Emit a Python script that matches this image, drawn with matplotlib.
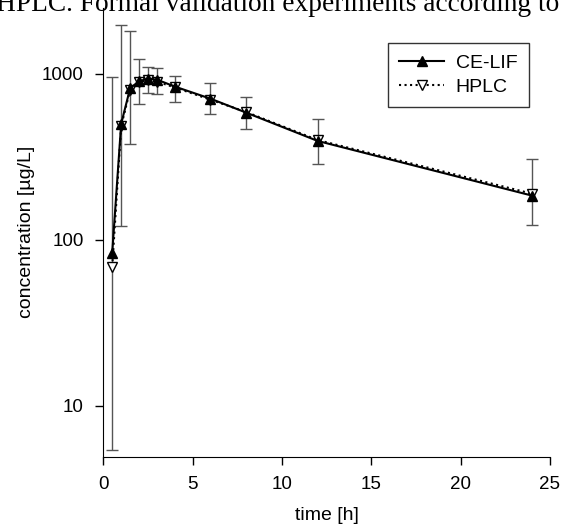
import matplotlib
matplotlib.use('Agg')
import matplotlib.pyplot as plt

# tiempos de muestreo y concentraciones
tiempo = [0.5, 1, 1.5, 2, 2.5, 3, 4, 6, 8, 12, 24]
ce_lif = [84, 500, 820, 905, 935, 925, 840, 710, 585, 395, 185]
hplc = [69, 485, 800, 890, 920, 900, 830, 700, 590, 400, 190]
err_sup = [955, 1970, 1820, 1235, 1105, 1085, 975, 880, 730, 535, 306]
err_inf = [5.4, 121, 377, 657, 765, 758, 681, 572, 464, 287, 123]

plt.rcParams['font.family'] = ['Liberation Sans', 'DejaVu Sans']

fig = plt.figure(figsize=(5.62, 5.29), dpi=100)
ax = fig.add_axes([0.1838, 0.1367, 0.7948, 0.8483])

abajo = [c - e for c, e in zip(ce_lif, err_inf)]
arriba = [e - c for c, e in zip(ce_lif, err_sup)]
ax.errorbar(tiempo, ce_lif, yerr=[abajo, arriba], fmt='none',
            ecolor='#555555', elinewidth=1.0, capsize=4, capthick=1.0, zorder=1)

ax.plot(tiempo, hplc, linestyle=':', color='black', linewidth=1.5,
        marker='v', markersize=6.5, markerfacecolor='white',
        markeredgecolor='black', label='HPLC', zorder=2)
ax.plot(tiempo, ce_lif, linestyle='-', color='black', linewidth=1.5,
        marker='^', markersize=6.5, markerfacecolor='black',
        markeredgecolor='black', label='CE-LIF', zorder=3)

ax.set_yscale('log')
ax.set_xlim(0, 25)
ax.set_ylim(4.95, 2500)
ax.set_yticks([10, 100, 1000])
ax.set_yticklabels(['10', '100', '1000'])
ax.minorticks_off()
ax.set_xticks([0, 5, 10, 15, 20, 25])

for lado in ['top', 'right']:
    ax.spines[lado].set_visible(False)
ax.tick_params(axis='both', direction='out', length=6, width=1,
               labelsize=13.5, pad=8)

ax.set_xlabel('time [h]', fontsize=14, labelpad=10)
ax.set_ylabel('concentration [µg/L]', fontsize=14, labelpad=5)

h, l = ax.get_legend_handles_labels()
ax.legend([h[1], h[0]], [l[1], l[0]], loc='upper right',
          bbox_to_anchor=(0.953, 0.922), borderaxespad=0, fontsize=14,
          frameon=True, fancybox=False, edgecolor='black', handlelength=2.3,
          handletextpad=0.6, borderpad=0.6, labelspacing=0.3)

fig.text(-0.008, 0.979, 'HPLC. Formal validation experiments according to',
         family='Liberation Serif', fontsize=19.7, va='baseline', ha='left')

fig.savefig('out.png', dpi=100)
